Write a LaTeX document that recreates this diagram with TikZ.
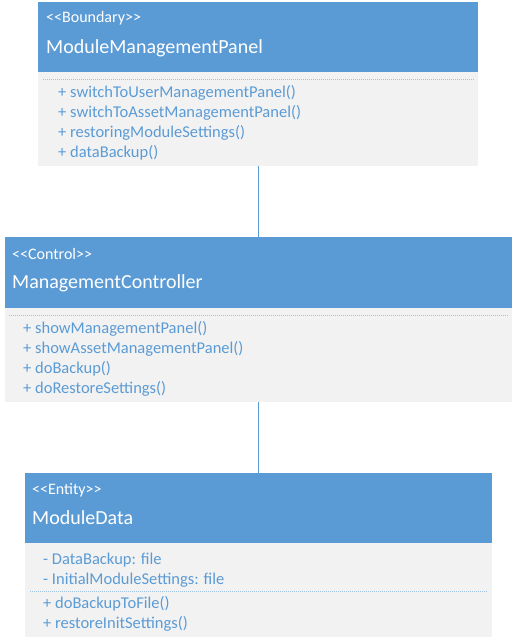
\documentclass[tikz,border=0pt]{standalone}
\usepackage{fontspec}
\setmainfont{Carlito}[Ligatures=TeXOff]
\definecolor{hdr}{HTML}{5B9BD5}
\definecolor{bdy}{HTML}{F2F2F2}
\definecolor{sepc}{HTML}{9DC3E6}
\tikzset{
 hdrbox/.style={fill=hdr, draw=none, inner sep=0pt, anchor=north west},
 bdybox/.style={fill=bdy, draw=none, inner sep=0pt, anchor=north west},
 stereo/.style={text=white, font=\fontsize{16}{18}\selectfont, anchor=base west, inner sep=0pt},
 ctitle/.style={text=white, font=\fontsize{20}{22}\selectfont, anchor=base west, inner sep=0pt},
 member/.style={text=hdr, font=\fontsize{16.5}{20}\selectfont, anchor=base west, inner sep=0pt},
 sepline/.style={draw=sepc, line width=0.8pt, dash pattern=on 1pt off 1pt},
 link/.style={draw=hdr, line width=1pt},
}
\begin{document}
\begin{tikzpicture}[x=1pt,y=-1pt]
\useasboundingbox (0,0) rectangle (514,642);
\fill[white] (0,0) rectangle (514,642);
% ---------- Boundary ----------
\node[hdrbox, minimum width=440pt, minimum height=70pt] (bh) at (38,2) {};
\node[bdybox, minimum width=440pt, minimum height=94pt] (bb) at (38,72) {};
\draw[sepline] ([xshift=5pt,yshift=-7pt]bb.north west) -- ([xshift=-5pt,yshift=-7pt]bb.north east);
\node[stereo] (bs) at (46,23) {<<Boundary>>};
\node[ctitle] (bt) at (46,53) {ModuleManagementPanel};
\node[member] (bm1) at (58,97.5) {+ switchToUserManagementPanel()};
\node[member] (bm2) at (58,117.5) {+ switchToAssetManagementPanel()};
\node[member] (bm3) at (58,137.5) {+ restoringModuleSettings()};
\node[member] (bm4) at (58,157.5) {+ dataBackup()};
% ---------- Control ----------
\node[hdrbox, minimum width=507pt, minimum height=71pt] (ch) at (5,237) {};
\node[bdybox, minimum width=507pt, minimum height=94pt] (cb) at (5,308) {};
\draw[sepline] ([xshift=4pt,yshift=-7pt]cb.north west) -- ([xshift=-5pt,yshift=-7pt]cb.north east);
\node[stereo] (cs) at (12,259) {<<Control>>};
\node[ctitle] (ct) at (12,288) {ManagementController};
\node[member] (cm1) at (23,333.5) {+ showManagementPanel()};
\node[member] (cm2) at (23,353.5) {+ showAssetManagementPanel()};
\node[member] (cm3) at (23,373.5) {+ doBackup()};
\node[member] (cm4) at (23,393.5) {+ doRestoreSettings()};
% ---------- Entity ----------
\node[hdrbox, minimum width=467pt, minimum height=70pt] (eh) at (25,473) {};
\node[bdybox, minimum width=467pt, minimum height=94pt] (eb) at (25,543) {};
\draw[sepline] ([xshift=5pt,yshift=-48pt]eb.north west) -- ([xshift=-5pt,yshift=-48pt]eb.north east);
\node[stereo] (es) at (32,494) {<<Entity>>};
\node[ctitle] (et) at (32,524) {ModuleData};
\node[member] (ea1) at (43,564) {- DataBackup: file};
\node[member] (ea2) at (43,584) {- InitialModuleSettings: file};
\node[member] (em1) at (43,608) {+ doBackupToFile()};
\node[member] (em2) at (43,628) {+ restoreInitSettings()};
% ---------- links ----------
\draw[link] (bb.south) -- (bb.south |- ch.north);
\draw[link] (cb.south) -- (cb.south |- eh.north);
\end{tikzpicture}
\end{document}
